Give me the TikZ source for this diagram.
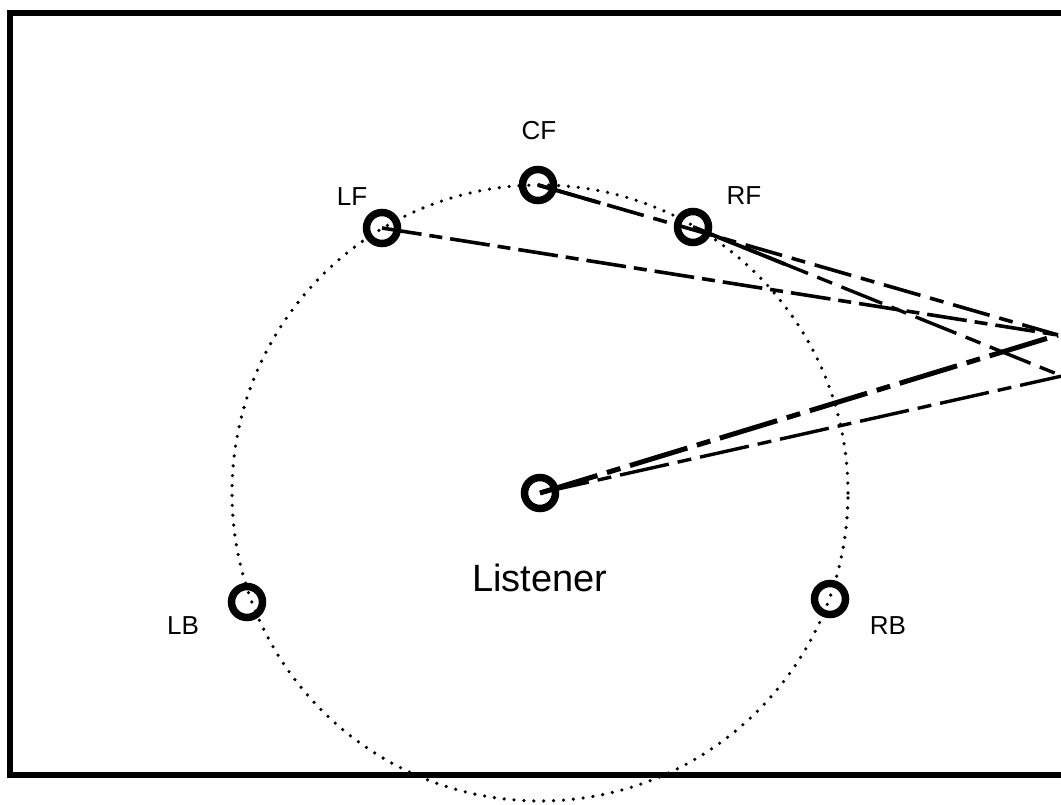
\documentclass[tikz,border=0pt]{standalone}
\usepackage{fontspec}
\setmainfont{Liberation Sans}
\usetikzlibrary{calc}
\begin{document}
\begin{tikzpicture}[x=1pt,y=-1pt,
  spk/.style={circle,draw,line width=7.5pt,minimum size=31pt,inner sep=0pt},
  lab/.style={anchor=base,font=\fontsize{26}{26}\selectfont},
  ring/.style={line width=3.6pt,line cap=round,dash pattern=on 0pt off 9.9pt},
  dashdotA/.style={line width=3.6pt,dash pattern=on 40pt off 8pt on 13pt off 8pt},
  dashB/.style={line width=3.6pt,dash pattern=on 38pt off 10pt on 14pt off 10pt},
  dashC/.style={line width=3.4pt,dash pattern=on 44pt off 10pt on 16pt off 10pt},
  thickdd/.style={line width=5pt,dash pattern=on 60pt off 10pt on 14pt off 10pt},
  dashL/.style={line width=3.4pt,dash pattern=on 50pt off 9pt on 14pt off 9pt},
  solidpart/.style={line width=3.8pt}]
\useasboundingbox (0,0) rectangle (1061,805);
% frame
\draw[line width=5.5pt] (10,13) rectangle (1068,775);
% positions
\coordinate (A) at (1058,335);
\coordinate (B) at (1062,376);
\node[spk] (L)  at (540,493) {};
\node[spk] (CF) at (538,185) {};
\node[spk] (LF) at (382,228) {};
\node[spk] (RF) at (693,227) {};
\node[spk] (LB) at (247,602) {};
\node[spk] (RB) at (830,599) {};
% dotted circle
\draw[ring] (L.center) circle (308pt);
% paths
\draw[dashdotA] (LF.center) -- (A);
\draw[dashB] (CF.center) -- (A);
\draw[solidpart] (CF.center) -- ($(CF.center)!0.12!(A)$);
\draw[dashC] (RF.center) -- (B);
\draw[solidpart] (RF.center) -- ($(RF.center)!0.25!(B)$);
\draw[thickdd] (L.center) -- (A);
\draw[dashL] (L.center) -- (B);
% labels
\node[lab] (tCF) at (539,140) {CF};
\node[lab] (tLF) at (352,206) {LF};
\node[lab] (tRF) at (744,205) {RF};
\node[lab] (tLB) at (183,634) {LB};
\node[lab] (tRB) at (888,634) {RB};
\node[anchor=base,font=\fontsize{38}{38}\selectfont] (tL) at (540,591) {Listener};
\end{tikzpicture}
\end{document}
